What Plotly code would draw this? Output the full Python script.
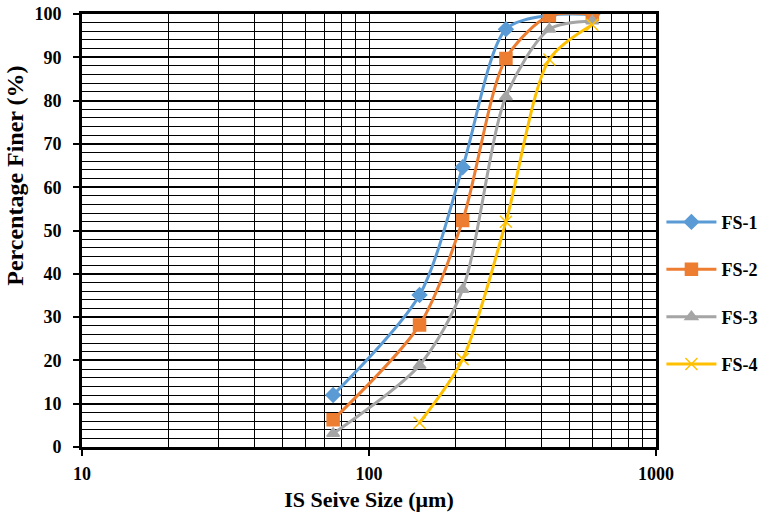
import plotly.graph_objects as go

sieve = [75, 150, 212, 300, 425, 600]
sieve_fs4 = [150, 212, 300, 425, 600]
fs1 = [12.0, 35.1, 64.6, 96.5, 99.7, 99.9]
fs2 = [6.3, 28.2, 52.3, 89.7, 99.6, 99.9]
fs3 = [3.1, 18.9, 36.4, 80.9, 96.5, 98.4]
fs4 = [5.6, 20.3, 52.0, 89.5, 97.5]

names = ["FS-1", "FS-2", "FS-3", "FS-4"]
colors = ["#5B9BD5", "#ED7D31", "#A5A5A5", "#FFC000"]
symbols = ["diamond", "square", "triangle-up", "x-thin-open"]
sizes = [11, 12, 11, 12]
xs = [sieve, sieve, sieve, sieve_fs4]
ys = [fs1, fs2, fs3, fs4]

fig = go.Figure()
for i in range(4):
    fig.add_trace(go.Scatter(
        x=xs[i], y=ys[i], name="<b>%s</b>" % names[i], mode="lines+markers",
        line=dict(color=colors[i], width=3, shape="spline", smoothing=0.8),
        marker=dict(symbol=symbols[i], size=sizes[i], color=colors[i],
                    line=dict(color=colors[i], width=1.5)),
        legendgroup=names[i],
    ))

fam = "Liberation Serif"
fig.update_layout(
    width=762, height=518,
    margin=dict(l=82, r=106, t=14, b=71, autoexpand=False),
    paper_bgcolor="white", plot_bgcolor="white",
    font=dict(family=fam, size=18, color="black"),
    showlegend=True,
    legend=dict(xref="container", yref="container", x=0.868, y=0.434,
                xanchor="left", yanchor="middle",
                font=dict(family=fam, size=18, color="black"),
                tracegroupgap=21, itemwidth=50, bgcolor="rgba(0,0,0,0)"),
    xaxis=dict(
        type="log", range=[1, 3],
        tickvals=[10, 100, 1000], ticktext=["<b>10</b>", "<b>100</b>", "<b>1000</b>"],
        tickfont=dict(family=fam, size=18, color="black"),
        showgrid=True, gridcolor="black", gridwidth=1.3,
        ticks="outside", ticklen=6, tickwidth=2, tickcolor="black",
        ticklabelstandoff=2,
        showline=True, linecolor="black", linewidth=3, mirror=True,
        minor=dict(tickvals=[20, 30, 40, 50, 60, 70, 80, 90, 200, 300, 400, 500, 600, 700, 800, 900],
                   showgrid=True, gridcolor="black", gridwidth=1.1, ticks=""),
        title=dict(text="<b>IS Seive Size (μm)</b>", font=dict(family=fam, size=22), standoff=10),
        zeroline=False,
    ),
    yaxis=dict(
        range=[0, 100],
        tickvals=list(range(0, 101, 10)),
        ticktext=["<b>%d</b>" % v for v in range(0, 101, 10)],
        tickfont=dict(family=fam, size=18, color="black"),
        showgrid=True, gridcolor="black", gridwidth=1.6,
        ticks="outside", ticklen=6, tickwidth=2, tickcolor="black",
        ticklabelstandoff=8,
        showline=True, linecolor="black", linewidth=3, mirror=True,
        minor=dict(dtick=2, showgrid=True, gridcolor="black", gridwidth=1.1, ticks=""),
        zeroline=False,
    ),
    annotations=[dict(
        text="<b>Percentage Finer (%)</b>", textangle=-90,
        xref="paper", yref="paper", x=-0.117, y=0.626,
        xanchor="center", yanchor="middle", showarrow=False,
        font=dict(family=fam, size=24, color="black"),
    )],
)
fig.write_html("out.html")
